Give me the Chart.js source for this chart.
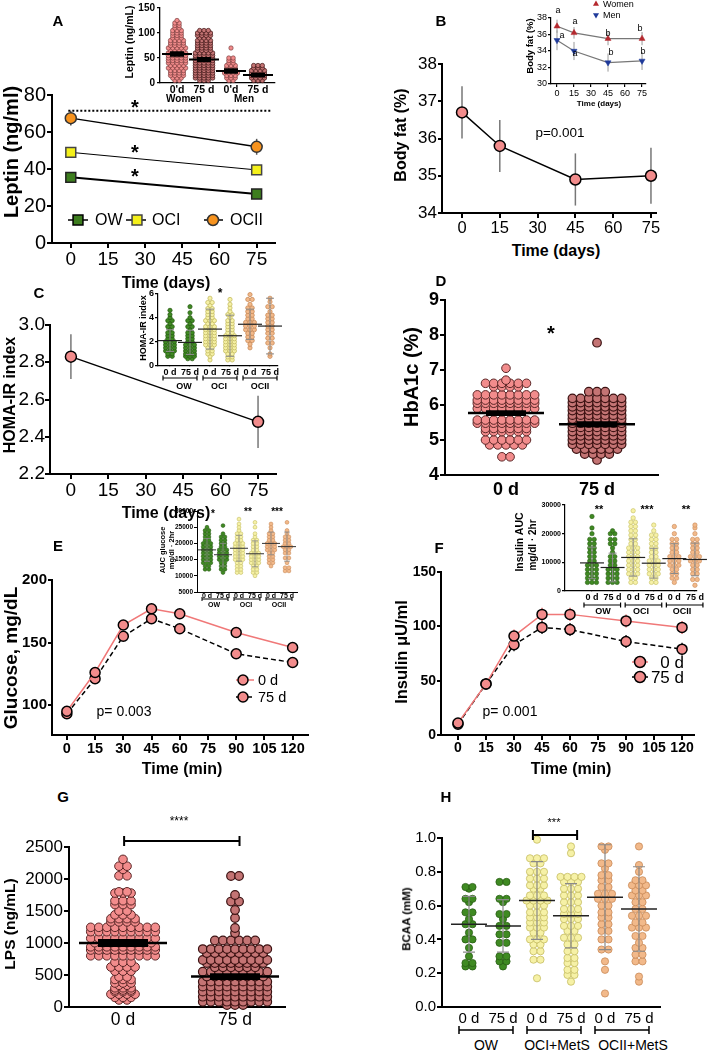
<!DOCTYPE html>
<html><head><meta charset="utf-8">
<script src="https://cdn.jsdelivr.net/npm/chart.js@4.4.1/dist/chart.umd.min.js"></script>
<style>
html,body{margin:0;background:#fff}
#fig{position:relative;width:709px;height:1052px;overflow:hidden}
</style></head><body><div id="fig"></div>
<script>
// ---------- data ----------
const dayTicks = [0, 15, 30, 45, 60, 75];
const minTicks = [0, 15, 30, 45, 60, 75, 90, 105, 120];

// A: leptin by group
const leptinDays = [0, 75];
const leptinOW = [35.5, 26.5];
const leptinOCI = [49, 39.5];
const leptinOCII = [67.5, 52];
const leptinErrOW = [1.5, 1.5];
const leptinErrOCI = [1.5, 1.5];
const leptinErrOCII = [4, 4.3];
const leptinSig = 71.5;
// A inset: [value, count] rows
const leptinCats = ["0'd", '75 d', "0'd", '75 d'];
const leptinW0 = [[5,2],[10,3],[15,4],[20,4],[25,4],[30,5],[35,4],[40,5],[45,5],[50,5],[55,5],[60,5],[65,4],[70,5],[75,4],[80,4],[85,4],[90,3],[95,3],[100,3],[105,3],[110,2],[115,2],[120,2],[125,1]];
const leptinW75 = [[5,3],[10,5],[15,5],[20,5],[25,5],[30,5],[35,5],[40,5],[45,5],[50,5],[55,5],[60,5],[65,4],[70,4],[75,4],[80,4],[85,4],[90,3],[95,4],[100,4],[105,3]];
const leptinM0 = [[5,2],[10,3],[15,3],[20,4],[25,3],[30,3],[35,3],[40,2],[45,2],[50,2],[70,1]];
const leptinM75 = [[5,3],[10,4],[15,4],[20,4],[25,4],[30,3],[35,3]];
const leptinMean = [58, 47, 24, 16];
const leptinSEM = [3, 2.5, 3, 2];

// B: body fat
const fatDays = [0, 15, 45, 75];
const fatMean = [36.7, 35.8, 34.9, 35.0];
const fatErr = [0.7, 0.7, 0.7, 0.75];
const fatWomen = [37.0, 36.2, 35.5, 35.5];
const fatWomenErr = [0.8, 0.7, 0.8, 0.8];
const fatMen = [35.3, 34.0, 32.6, 32.8];
const fatMenErr = [1.2, 1.1, 1.1, 1.1];

// C: HOMA-IR
const homaDays = [0, 75];
const homaMean = [2.83, 2.48];
const homaErr = [0.12, 0.14];
const groupCats = ['0 d', '75 d', '0 d', '75 d', '0 d', '75 d'];
const homaOW0 = [[0.8,2],[1.0,2],[1.25,3],[1.5,3],[1.75,3],[2.0,3],[2.25,2],[2.5,2],[2.75,2],[3.0,1],[3.25,2],[3.5,1],[3.75,2],[4.0,1],[4.25,1],[4.6,1]];
const homaOW75 = [[0.6,2],[0.8,3],[1.0,3],[1.25,3],[1.5,3],[1.75,3],[2.0,2],[2.25,2],[2.5,2],[2.75,2],[3.0,1],[3.25,2],[3.5,1],[3.75,2],[4.0,1],[4.4,1],[4.9,1]];
const homaOCI0 = [[0.5,1],[0.8,1],[1.0,2],[1.25,2],[1.5,2],[1.75,3],[2.0,3],[2.25,3],[2.5,3],[2.75,3],[3.0,3],[3.25,3],[3.5,2],[3.75,3],[4.0,2],[4.25,2],[4.5,2],[4.75,2],[5.0,1],[5.25,2],[5.6,1]];
const homaOCI75 = [[0.5,2],[0.75,2],[1.0,2],[1.25,3],[1.5,3],[1.75,3],[2.0,3],[2.25,3],[2.5,3],[2.75,2],[3.0,2],[3.25,2],[3.5,2],[3.75,2],[4.0,1],[4.25,2],[4.5,1],[4.8,1],[5.1,1],[5.5,1]];
const homaOCII0 = [[1.5,1],[1.8,1],[2.1,2],[2.4,2],[2.7,2],[3.0,3],[3.3,3],[3.6,3],[3.9,2],[4.2,2],[4.5,2],[4.8,2],[5.1,1],[5.5,2],[5.9,1]];
const homaOCII75 = [[0.8,1],[1.0,1],[1.5,1],[1.9,2],[2.3,2],[2.7,2],[3.0,2],[3.3,2],[3.6,2],[3.9,2],[4.2,2],[4.5,1],[4.9,2],[5.3,1],[5.6,1]];
const homaGrpMean = [2.1, 1.95, 3.05, 2.5, 3.45, 3.3];
const homaGrpSD = [0.9, 1.0, 1.65, 1.7, 1.25, 2.3];

// D: HbA1c
const hbCats = ['0 d', '75 d'];
const hba1c0 = [[4.52,2],[4.86,5],[5.0,6],[5.24,6],[5.33,6],[5.48,8],[5.57,8],[5.81,4],[5.9,8],[6.05,8],[6.14,8],[6.29,8],[6.52,4],[6.62,6],[6.71,1],[7.05,1]];
const hba1c75 = [[4.43,1],[4.6,4],[4.74,6],[4.88,7],[5.0,7],[5.12,7],[5.24,7],[5.36,7],[5.48,7],[5.6,7],[5.71,7],[5.84,7],[5.95,7],[6.07,7],[6.19,7],[6.38,3],[7.78,1]];
const hbMean = [5.77, 5.45];
const hbSEM = [0.04, 0.04];

// E: glucose OGTT
const ogttMin = [0, 15, 30, 45, 60, 90, 120];
const gluc0 = [95, 126, 164, 177, 173, 158, 146];
const gluc75 = [93, 121, 155, 169, 161, 141, 134];
const aucGOW0 = [[12000,2],[13000,2],[14000,3],[15000,3],[16000,3],[17000,3],[18000,3],[19000,3],[20000,3],[21000,2],[22000,2],[23000,2],[24000,2],[25000,1]];
const aucGOW75 = [[11000,1],[12000,2],[13000,2],[14000,2],[15000,3],[16000,3],[17000,3],[18000,3],[19000,2],[20000,2],[21000,2],[22000,2],[23000,1],[25500,1]];
const aucGOCI0 = [[11000,2],[12000,2],[13000,2],[14000,2],[15000,3],[16000,3],[17000,3],[18000,3],[19000,3],[20000,3],[21000,2],[22000,2],[23000,2],[24000,1],[25000,1],[26000,1],[27500,1]];
const aucGOCI75 = [[10000,1],[11000,2],[12000,2],[13000,2],[14000,3],[15000,3],[16000,3],[17000,3],[18000,2],[19000,2],[20000,2],[21000,2],[22000,1],[23000,1],[25000,1],[26500,1]];
const aucGOCII0 = [[13000,1],[14000,2],[15000,2],[16000,2],[17000,2],[18000,3],[19000,3],[20000,3],[21000,2],[22000,2],[23000,2],[24000,1],[25000,1],[26000,1]];
const aucGOCII75 = [[11500,2],[12500,2],[14000,1],[15500,2],[17000,2],[18000,2],[19000,3],[20000,2],[21000,2],[22000,2],[23000,1],[24000,1],[26500,1]];
const aucGMean = [18000, 16500, 18500, 16800, 20000, 19000];
const aucGSD = [3500, 3500, 4000, 4000, 3500, 4500];

// F: insulin OGTT
const ins0 = [11, 47, 91, 111, 111, 105, 99];
const ins75 = [10, 47, 83, 99, 97, 86, 79];
const insErr = [3, 5, 6, 6, 6, 6, 6];
const aucIOW0 = [[3000,3],[4500,3],[6000,3],[7500,3],[9000,3],[10500,2],[12000,2],[13500,2],[15000,2],[16500,2],[18000,2],[20000,1],[22000,1],[26000,1]];
const aucIOW75 = [[3000,3],[4500,3],[6000,3],[7500,3],[9000,2],[10500,2],[12000,2],[13500,1],[15000,1],[16500,2],[18000,2],[20000,2],[21000,1]];
const aucIOCI0 = [[3000,2],[4500,2],[6000,3],[7500,3],[9000,3],[10500,3],[12000,3],[13500,3],[15000,3],[16500,2],[18000,2],[19500,2],[21000,2],[22500,2],[24000,2],[25500,1],[28000,1]];
const aucIOCI75 = [[3000,2],[4500,2],[6000,3],[7500,3],[9000,3],[10500,3],[12000,2],[13500,2],[15000,2],[16500,2],[18000,2],[19500,2],[21000,1],[23000,1]];
const aucIOCII0 = [[3000,1],[4500,2],[6000,2],[7500,2],[9000,3],[10500,3],[12000,3],[13500,2],[15000,2],[16500,2],[18000,2],[20000,1],[22500,1]];
const aucIOCII75 = [[2000,1],[4000,2],[6000,2],[7500,2],[9000,2],[10500,3],[12000,3],[13500,2],[15000,2],[16500,2],[18000,2],[20000,1],[22000,1],[23000,1]];
const aucIMean = [9800, 8200, 11700, 9700, 11300, 11000];
const aucISD = [5500, 5000, 6500, 5200, 5200, 5700];

// G: LPS
const lpsCats = ['0 d', '75 d'];
const lps0 = [[110,2],[150,3],[200,4],[240,3],[265,3],[300,3],[340,2],[375,3],[430,3],[470,2],[560,3],[625,4],[700,3],[800,9],[890,9],[940,9],[1005,8],[1073,9],[1177,9],[1245,9],[1330,4],[1380,4],[1440,3],[1500,2],[1600,3],[1660,3],[1780,3],[1800,2],[2050,2],[2150,1],[2200,2],[2307,1]];
const lps75 = [[31,3],[83,9],[161,9],[240,9],[318,9],[396,9],[475,8],[552,9],[620,6],[687,8],[734,9],[843,8],[905,9],[1040,6],[1156,1],[1234,1],[1390,1],[1516,1],[1648,2],[1750,1],[2047,2]];
const lpsMean = [1000, 475];
const lpsSEM = [40, 30];

// H: BCAA
const bcaaOW0 = [[0.24,2],[0.26,2],[0.30,1],[0.35,1],[0.40,2],[0.44,1],[0.49,2],[0.52,1],[0.56,2],[0.62,1],[0.64,2],[0.70,1],[0.71,2]];
const bcaaOW75 = [[0.24,1],[0.27,2],[0.30,2],[0.38,2],[0.43,2],[0.48,2],[0.52,1],[0.55,2],[0.62,1],[0.64,2],[0.74,2]];
const bcaaOCI0 = [[0.17,1],[0.28,2],[0.33,2],[0.37,2],[0.40,3],[0.44,2],[0.47,3],[0.50,3],[0.53,3],[0.56,3],[0.60,3],[0.63,4],[0.66,3],[0.70,2],[0.72,3],[0.76,3],[0.80,3],[0.85,2],[0.88,3],[0.99,1]];
const bcaaOCI75 = [[0.15,1],[0.19,2],[0.22,2],[0.26,2],[0.29,2],[0.33,2],[0.37,2],[0.41,3],[0.45,2],[0.48,3],[0.52,3],[0.55,3],[0.58,3],[0.62,3],[0.66,3],[0.70,3],[0.74,3],[0.77,4],[0.91,1],[0.95,1]];
const bcaaOCII0 = [[0.08,1],[0.22,1],[0.27,1],[0.34,2],[0.40,2],[0.45,2],[0.49,2],[0.53,2],[0.56,2],[0.60,2],[0.64,3],[0.67,3],[0.71,2],[0.75,2],[0.78,2],[0.82,1],[0.85,2],[0.93,1],[0.95,2]];
const bcaaOCII75 = [[0.15,1],[0.18,1],[0.27,2],[0.31,2],[0.35,2],[0.38,1],[0.42,2],[0.47,3],[0.50,2],[0.54,3],[0.58,2],[0.62,2],[0.66,3],[0.69,2],[0.72,3],[0.75,2],[0.80,1],[0.84,1],[0.95,1]];
const bcaaCats = ['0 d', '75 d', '0 d', '75 d', '0 d', '75 d'];
const bcaaMean = [0.49, 0.48, 0.63, 0.54, 0.65, 0.58];
const bcaaSD = [0.165, 0.155, 0.23, 0.19, 0.31, 0.25];

// ---------- helpers ----------
const FONT = '"Liberation Sans", Arial, Helvetica, sans-serif';
Chart.defaults.font.family = FONT;
Chart.defaults.color = '#000';
const fig = document.getElementById('fig');

const PINK = '#f28c8c', PINK_LINE = '#f07878';
const DARK = '#c47474', DARK_EDGE = '#3c1212';
const GREEN = '#3f8a22', GREEN_EDGE = '#2a5e15';
const YEL = '#f6f1a6', YEL_EDGE = '#c5bd62';
const PEACH = '#f2b98a', PEACH_EDGE = '#c98a58';
const GREY = '#8a8a8a';

function xy(xs, ys) { return xs.map((v, i) => ({x: v, y: ys[i]})); }
function errs(xs, ys, es) { return xs.map((v, i) => [v, ys[i], es[i]]); }
function swarm(rows, cx, step) {
  const pts = [];
  rows.forEach(([v, n]) => {
    for (let i = 0; i < n; i++) pts.push({x: cx + (i - (n - 1) / 2) * step, y: v});
  });
  return pts;
}
function fmt(d) { return v => v.toFixed(d); }

function axis(a, fit) {
  const labels = a.labels || a.ticks.map(a.fmt || String);
  return {
    type: 'linear', min: a.min, max: a.max,
    afterBuildTicks: s => { s.ticks = a.ticks.map(v => ({value: v})); },
    afterFit: s => { if (fit.w != null) s.width = fit.w; if (fit.h != null) s.height = fit.h; },
    grid: {drawOnChartArea: false, color: '#000', lineWidth: a.lw || 2, tickLength: a.tl ?? 5},
    border: {color: '#000', width: a.lw || 2},
    ticks: {autoSkip: false, maxRotation: 0, minRotation: 0, padding: a.pad ?? 2, color: '#000',
      font: {size: a.size, weight: a.bold ? 'bold' : 'normal'},
      callback: (v, i) => labels[i]}
  };
}

function shape(ctx, s, x, y, r, fill, stroke, lw) {
  ctx.beginPath();
  if (s === 'rect') {
    const a = r * Math.SQRT1_2;
    ctx.rect(x - a, y - a, 2 * a, 2 * a);
  } else if (s === 'tri' || s === 'triDown') {
    const k = s === 'tri' ? 1 : -1;
    ctx.moveTo(x, y - k * r);
    ctx.lineTo(x - r * 0.866, y + k * r / 2);
    ctx.lineTo(x + r * 0.866, y + k * r / 2);
    ctx.closePath();
  } else {
    ctx.arc(x, y, r, 0, Math.PI * 2);
  }
  ctx.fillStyle = fill; ctx.fill();
  if (lw) { ctx.strokeStyle = stroke; ctx.lineWidth = lw; ctx.stroke(); }
}

function extrasPlugin(o) {
  return {
    id: 'extras',
    beforeDatasetsDraw(chart) {
      const ctx = chart.ctx, x = chart.scales.x, y = chart.scales.y;
      ctx.save();
      (o.errs || []).forEach(e => {
        ctx.strokeStyle = e.color; ctx.lineWidth = e.lw;
        e.pts.forEach(([xv, yv, ev]) => {
          const px = x.getPixelForValue(xv);
          ctx.beginPath();
          ctx.moveTo(px, y.getPixelForValue(yv - ev));
          ctx.lineTo(px, y.getPixelForValue(yv + ev));
          ctx.stroke();
        });
      });
      ctx.restore();
    },
    afterDatasetsDraw(chart) {
      const ctx = chart.ctx, ca = chart.chartArea, x = chart.scales.x, y = chart.scales.y;
      const [ox, oy] = o.origin;
      ctx.save();
      (o.bars || []).forEach(b => {
        b.m.forEach((m, i) => {
          const px = x.getPixelForValue(i), py = y.getPixelForValue(m);
          const lo = y.getPixelForValue(m - b.e[i]), hi = y.getPixelForValue(m + b.e[i]);
          ctx.strokeStyle = b.ecolor; ctx.lineWidth = b.elw;
          ctx.beginPath();
          ctx.moveTo(px, lo); ctx.lineTo(px, hi);
          ctx.moveTo(px - b.cap, lo); ctx.lineTo(px + b.cap, lo);
          ctx.moveTo(px - b.cap, hi); ctx.lineTo(px + b.cap, hi);
          ctx.stroke();
          ctx.strokeStyle = b.color; ctx.lineWidth = b.lw;
          ctx.beginPath(); ctx.moveTo(px - b.half, py); ctx.lineTo(px + b.half, py); ctx.stroke();
        });
      });
      (o.groups || []).forEach(g => {
        const yy = ca.bottom + g.dy;
        ctx.strokeStyle = '#000'; ctx.lineWidth = g.lw;
        g.pairs.forEach(([a, b]) => {
          const xa = x.getPixelForValue(a) - g.ext, xb = x.getPixelForValue(b) + g.ext;
          ctx.beginPath();
          ctx.moveTo(xa, yy); ctx.lineTo(xb, yy);
          ctx.moveTo(xa, yy - g.tick); ctx.lineTo(xa, yy + g.tick);
          ctx.moveTo(xb, yy - g.tick); ctx.lineTo(xb, yy + g.tick);
          ctx.stroke();
        });
      });
      (o.brackets || []).forEach(b => {
        const xa = x.getPixelForValue(b.x1), xb = x.getPixelForValue(b.x2), yy = y.getPixelForValue(b.y);
        ctx.strokeStyle = '#000'; ctx.lineWidth = b.lw;
        ctx.setLineDash(b.dash || []);
        ctx.beginPath();
        ctx.moveTo(xa, yy); ctx.lineTo(xb, yy);
        if (b.tick) {
          ctx.moveTo(xa, yy - b.tick); ctx.lineTo(xa, yy + b.tick);
          ctx.moveTo(xb, yy - b.tick); ctx.lineTo(xb, yy + b.tick);
        }
        ctx.stroke();
        ctx.setLineDash([]);
      });
      (o.legend || []).forEach(l => {
        const py = l.y - oy;
        if (l.x1 != null) {
          ctx.strokeStyle = l.lc || '#000'; ctx.lineWidth = l.lw || 1.5;
          ctx.setLineDash(l.dash || []);
          ctx.beginPath(); ctx.moveTo(l.x1 - ox, py); ctx.lineTo(l.x2 - ox, py); ctx.stroke();
          ctx.setLineDash([]);
        }
        shape(ctx, l.shape, l.x - ox, py, l.r, l.fill, l.stroke || '#000', l.slw ?? 1.5);
      });
      ctx.restore();
    }
  };
}

function makeChart(L, datasets, xa, ya, ex) {
  const w = L.x1 - L.x0 + L.yW + L.pr, h = L.y1 - L.y0 + L.pt + L.xH;
  const left = L.x0 - L.yW, top = L.y0 - L.pt;
  const c = document.createElement('canvas');
  c.width = w; c.height = h;
  c.style.cssText = 'position:absolute;left:' + left + 'px;top:' + top + 'px;width:' + w + 'px;height:' + h + 'px';
  fig.appendChild(c);
  ex = Object.assign({origin: [left, top]}, ex || {});
  return new Chart(c, {
    type: 'scatter',
    data: {datasets},
    options: {
      responsive: false, animation: false, events: [],
      layout: {padding: {top: L.pt, right: L.pr, left: 0, bottom: 0}},
      plugins: {legend: {display: false}, tooltip: {enabled: false}},
      scales: {x: axis(xa, {h: L.xH}), y: axis(ya, {w: L.yW})}
    },
    plugins: [extrasPlugin(ex)]
  });
}

function lineSet(data, o) {
  return Object.assign({data, showLine: true, clip: false, borderColor: '#000', borderWidth: 1.5,
    pointRadius: 5, pointBackgroundColor: PINK, pointBorderColor: '#000', pointBorderWidth: 1.5}, o);
}
function dotSet(data, fill, stroke, r, bw) {
  return {data, showLine: false, clip: false, pointRadius: r, pointBackgroundColor: fill,
    pointBorderColor: stroke, pointBorderWidth: bw ?? 0.8};
}
function crossSet(data) {
  return {data, showLine: false, clip: false, pointStyle: 'crossRot', pointRadius: 2.4,
    pointBorderColor: '#4a1515', pointBorderWidth: 1};
}

function txt(t, x, y, size, o) {
  o = o || {};
  const d = document.createElement('div');
  d.textContent = t;
  const ax = o.ax ?? -50;
  const dy = o.star ? size * 0.22 : 0;
  d.style.cssText = 'position:absolute;left:' + x + 'px;top:' + (y + dy) + 'px;font:' + (o.b ? 'bold ' : '') +
    size + 'px ' + FONT + ';line-height:1;white-space:nowrap;color:#000;z-index:5;transform:translate(' + ax + '%,-50%)' +
    (o.rot ? ' rotate(-90deg)' : '');
  fig.appendChild(d);
}
const B = {b: true}, BR = {b: true, rot: true}, ST = {b: true, star: true};

// ---------- A ----------
makeChart({x0: 52, x1: 277, y0: 94, y1: 243, yW: 50, xH: 32, pt: 12, pr: 6},
  [lineSet(xy(leptinDays, leptinOCII), {pointRadius: 5.5, pointBackgroundColor: '#f7931e', pointBorderColor: '#333'}),
   lineSet(xy(leptinDays, leptinOCI), {borderWidth: 1, pointStyle: 'rect', pointRadius: 7, pointBackgroundColor: '#f4f01a', pointBorderColor: '#444'}),
   lineSet(xy(leptinDays, leptinOW), {borderWidth: 2, pointStyle: 'rect', pointRadius: 7, pointBackgroundColor: '#3d7d1e', pointBorderColor: '#222'})],
  {min: -7.58, max: 82.2, ticks: dayTicks, size: 19, tl: 5, pad: 0},
  {min: 0, max: 80, ticks: [0, 20, 40, 60, 80], size: 20, tl: 5, pad: 1},
  {errs: [{color: '#555', lw: 1.5, pts: errs(leptinDays, leptinOCII, leptinErrOCII)},
          {color: '#555', lw: 1.5, pts: errs(leptinDays, leptinOCI, leptinErrOCI)},
          {color: '#555', lw: 1.5, pts: errs(leptinDays, leptinOW, leptinErrOW)}],
   brackets: [{x1: -1, x2: 80.5, y: leptinSig, lw: 2, dash: [2, 2]}],
   legend: [{x: 78, y: 220, x1: 68, x2: 88, shape: 'rect', r: 7, fill: '#3d7d1e'},
            {x: 137, y: 220, x1: 126, x2: 146, shape: 'rect', r: 7, fill: '#f4f01a', stroke: '#444'},
            {x: 213, y: 220, x1: 204, x2: 223, shape: 'circle', r: 5.5, fill: '#f7931e', stroke: '#333'}]});

makeChart({x0: 160, x1: 275, y0: 5, y1: 83, yW: 30, xH: 12, pt: 5, pr: 5},
  [dotSet(swarm(leptinW0, 0, 0.16), PINK, '#6a3030', 2.2, 0.6),
   dotSet(swarm(leptinW75, 1, 0.16), DARK, DARK_EDGE, 2.2, 0.7),
   dotSet(swarm(leptinM0, 2, 0.16), PINK, '#6a3030', 2.2, 0.6),
   dotSet(swarm(leptinM75, 3, 0.16), DARK, DARK_EDGE, 2.2, 0.7)],
  {min: -0.63, max: 3.63, ticks: [0, 1, 2, 3], labels: leptinCats, size: 10.5, bold: true, tl: 0, lw: 1.3, pad: 1},
  {min: 0, max: 150, ticks: [0, 50, 100, 150], size: 10, bold: true, tl: 3, lw: 1.3},
  {bars: [{m: leptinMean, e: leptinSEM, half: 15, cap: 7, color: '#000', lw: 2, ecolor: '#000', elw: 2.5}]});

txt('A', 58, 20, 15, B);
txt('Leptin (ng/ml)', 11, 152, 20, BR);
txt('Time (days)', 166, 283, 16, B);
txt('*', 135, 103, 20, ST);
txt('*', 135, 148, 20, ST);
txt('*', 135, 172, 20, ST);
txt('OW', 95, 220, 16, {ax: 0});
txt('OCI', 152, 220, 16, {ax: 0});
txt('OCII', 230, 220, 16, {ax: 0});
txt('Leptin (ng/mL)', 129, 42, 10.5, BR);
txt('Women', 184, 99, 10, B);
txt('Men', 244, 99, 10, B);

// ---------- B ----------
makeChart({x0: 442, x1: 656, y0: 64, y1: 213, yW: 42, xH: 28, pt: 12, pr: 8},
  [lineSet(xy(fatDays, fatMean), {pointRadius: 5.5})],
  {min: -7.94, max: 77.0, ticks: dayTicks, size: 16.5, tl: 5, pad: 1},
  {min: 34, max: 38, ticks: [34, 35, 36, 37, 38], size: 17, tl: 4, pad: 1},
  {errs: [{color: '#777', lw: 1.5, pts: errs(fatDays, fatMean, fatErr)}]});

makeChart({x0: 551, x1: 646, y0: 18, y1: 84, yW: 22, xH: 12, pt: 18, pr: 8},
  [lineSet(xy(fatDays, fatWomen), {borderColor: '#777', borderWidth: 1.2, pointStyle: 'triangle', pointRadius: 3.5, pointBackgroundColor: '#b5282e', pointBorderColor: '#b5282e', pointBorderWidth: 0.5}),
   lineSet(xy(fatDays, fatMen), {borderColor: '#777', borderWidth: 1.2, pointStyle: 'triangle', pointRotation: 180, pointRadius: 3.5, pointBackgroundColor: '#1f3a9a', pointBorderColor: '#1f3a9a', pointBorderWidth: 0.5})],
  {min: -5.3, max: 78.5, ticks: dayTicks, size: 9, tl: 3, lw: 1.2, pad: 1},
  {min: 30, max: 38, ticks: [30, 32, 34, 36, 38], size: 9, tl: 3, lw: 1.2, pad: 1},
  {errs: [{color: '#999', lw: 1, pts: errs(fatDays, fatWomen, fatWomenErr)},
          {color: '#999', lw: 1, pts: errs(fatDays, fatMen, fatMenErr)}],
   legend: [{x: 596, y: 4, shape: 'tri', r: 3.5, fill: '#b5282e', slw: 0},
            {x: 596, y: 15, shape: 'triDown', r: 3.5, fill: '#1f3a9a', slw: 0}]});

txt('B', 441, 20, 15, B);
txt('Body fat (%)', 401, 135, 16, BR);
txt('Time (days)', 556, 251, 16, B);
txt('p=0.001', 560, 133, 13.5);
txt('Body fat (%)', 530, 46, 9.5, BR);
txt('Time (days)', 599, 104, 8, B);
txt('Women', 603, 4, 9, {ax: 0});
txt('Men', 603, 15, 9, {ax: 0});
[['a', 558, 10], ['a', 575, 21], ['b', 608, 33], ['b', 640, 28],
 ['a', 562, 35], ['a', 575, 53], ['b', 611, 52], ['b', 643, 51]].forEach(([t, x, y]) => txt(t, x, y, 9));

// ---------- C ----------
makeChart({x0: 50, x1: 277, y0: 325, y1: 474, yW: 50, xH: 28, pt: 12, pr: 6},
  [lineSet(xy(homaDays, homaMean), {pointRadius: 5.5})],
  {min: -8.38, max: 82.2, ticks: dayTicks, size: 19, tl: 5, pad: 0},
  {min: 2.2, max: 3.0, ticks: [2.2, 2.4, 2.6, 2.8, 3.0], fmt: fmt(1), size: 19, tl: 5, pad: 0},
  {errs: [{color: '#777', lw: 1.5, pts: errs(homaDays, homaMean, homaErr)}]});

makeChart({x0: 158, x1: 278, y0: 293, y1: 366, yW: 18, xH: 18, pt: 6, pr: 6},
  [dotSet(swarm(homaOW0, 0, 0.22), GREEN, GREEN_EDGE, 2.1),
   dotSet(swarm(homaOW75, 1, 0.22), GREEN, GREEN_EDGE, 2.1),
   dotSet(swarm(homaOCI0, 2, 0.22), YEL, YEL_EDGE, 2.1),
   dotSet(swarm(homaOCI75, 3, 0.22), YEL, YEL_EDGE, 2.1),
   dotSet(swarm(homaOCII0, 4, 0.22), PEACH, PEACH_EDGE, 2.1),
   dotSet(swarm(homaOCII75, 5, 0.22), PEACH, PEACH_EDGE, 2.1)],
  {min: -0.6, max: 5.4, ticks: [0, 1, 2, 3, 4, 5], labels: groupCats, size: 9, bold: true, tl: 0, lw: 1.2, pad: 1},
  {min: 0, max: 6, ticks: [0, 2, 4, 6], size: 9, bold: true, tl: 3, lw: 1.2, pad: 1},
  {bars: [{m: homaGrpMean, e: homaGrpSD, half: 12, cap: 4, color: '#222', lw: 1.2, ecolor: GREY, elw: 1}],
   groups: [{pairs: [[0, 1], [2, 3], [4, 5]], dy: 12, ext: 7, tick: 2.5, lw: 1.2}]});

txt('C', 39, 292, 15, B);
txt('HOMA-IR index', 10, 395, 16, BR);
txt('Time (days)', 166, 513, 16, B);
txt('HOMA-IR index', 143, 328, 9, BR);
txt('*', 220, 290, 12, ST);
txt('OW', 184, 386, 9, B);
txt('OCI', 219, 386, 9, B);
txt('OCII', 260, 386, 9, B);

// ---------- D ----------
const hbPts75 = swarm(hba1c75, 1, 0.09);
makeChart({x0: 445, x1: 658, y0: 300, y1: 475, yW: 32, xH: 30, pt: 12, pr: 6},
  [dotSet(swarm(hba1c0, 0, 0.09), PINK, '#5a2626', 4.3, 1),
   dotSet(hbPts75, DARK, DARK_EDGE, 4.3, 1.2),
   crossSet(hbPts75)],
  {min: -0.67, max: 1.67, ticks: [0, 1], labels: hbCats, size: 18, bold: true, tl: 0, pad: 4},
  {min: 4, max: 9, ticks: [4, 5, 6, 7, 8, 9], size: 18, bold: true, tl: 5, pad: 1},
  {bars: [{m: hbMean, e: hbSEM, half: 38, cap: 20, color: '#000', lw: 2.5, ecolor: '#000', elw: 3}]});

txt('D', 441, 280, 15, B);
txt('HbA1c (%)', 411, 377, 20, BR);
txt('*', 551, 329, 20, ST);

// ---------- E ----------
makeChart({x0: 52, x1: 310, y0: 580, y1: 735, yW: 50, xH: 28, pt: 12, pr: 4},
  [lineSet(xy(ogttMin, gluc0), {borderColor: PINK_LINE, pointRadius: 5}),
   lineSet(xy(ogttMin, gluc75), {borderDash: [5, 3], pointRadius: 5})],
  {min: -7.9, max: 127.9, ticks: minTicks, size: 14.5, bold: true, tl: 5, pad: 0},
  {min: 76, max: 200, ticks: [100, 150, 200], size: 15, bold: true, tl: 4, pad: 1},
  {legend: [{x: 243, y: 680, x1: 236, x2: 254, lc: PINK_LINE, shape: 'circle', r: 5, fill: PINK},
            {x: 243, y: 697, x1: 236, x2: 254, dash: [4, 2], shape: 'circle', r: 5, fill: PINK}]});

makeChart({x0: 197, x1: 297, y0: 511, y1: 592, yW: 32, xH: 12, pt: 6, pr: 6},
  [dotSet(swarm(aucGOW0, 0, 0.24), GREEN, GREEN_EDGE, 1.9, 0.6),
   dotSet(swarm(aucGOW75, 1, 0.24), GREEN, GREEN_EDGE, 1.9, 0.6),
   dotSet(swarm(aucGOCI0, 2, 0.24), YEL, YEL_EDGE, 1.9, 0.6),
   dotSet(swarm(aucGOCI75, 3, 0.24), YEL, YEL_EDGE, 1.9, 0.6),
   dotSet(swarm(aucGOCII0, 4, 0.24), PEACH, PEACH_EDGE, 1.9, 0.6),
   dotSet(swarm(aucGOCII75, 5, 0.24), PEACH, PEACH_EDGE, 1.9, 0.6)],
  {min: -0.625, max: 5.625, ticks: [0, 1, 2, 3, 4, 5], labels: groupCats, size: 7, bold: true, tl: 0, lw: 1, pad: 0},
  {min: 5000, max: 30000, ticks: [5000, 10000, 15000, 20000, 25000, 30000], size: 6.5, bold: true, tl: 3, lw: 1, pad: 1},
  {bars: [{m: aucGMean, e: aucGSD, half: 9, cap: 3, color: '#333', lw: 1, ecolor: GREY, elw: 0.8}],
   groups: [{pairs: [[0, 1], [2, 3], [4, 5]], dy: 7, ext: 5, tick: 2, lw: 1}]});

txt('E', 58, 545, 15, B);
txt('Glucose, mg/dL', 10, 658, 19, BR);
txt('Time (min)', 182, 769, 16, B);
txt('p= 0.003', 124, 711, 14);
txt('0 d', 258, 680, 14.5, {ax: 0});
txt('75 d', 258, 697, 14.5, {ax: 0});
txt('AUC glucose', 163, 550, 7.5, BR);
txt('mg/dl · 2hr', 172, 550, 7.5, BR);
txt('*', 213, 512, 10, ST);
txt('**', 248, 510, 10, ST);
txt('***', 277, 510, 10, ST);
txt('OW', 214, 604, 7, B);
txt('OCI', 246, 604, 7, B);
txt('OCII', 279, 604, 7, B);

// ---------- F ----------
makeChart({x0: 441, x1: 694, y0: 572, y1: 735, yW: 45, xH: 28, pt: 12, pr: 8},
  [lineSet(xy(ogttMin, ins0), {borderColor: PINK_LINE, pointRadius: 5}),
   lineSet(xy(ogttMin, ins75), {borderDash: [5, 3], pointRadius: 5})],
  {min: -9.1, max: 126.4, ticks: minTicks, size: 14, bold: true, tl: 5, pad: 0},
  {min: 0, max: 150, ticks: [0, 50, 100, 150], size: 14, bold: true, tl: 4, pad: 1},
  {errs: [{color: PINK_LINE, lw: 1.5, pts: errs(ogttMin, ins0, insErr)},
          {color: '#333', lw: 1.5, pts: errs(ogttMin, ins75, insErr)}],
   legend: [{x: 640, y: 662, x1: 632, x2: 648, lc: PINK_LINE, shape: 'circle', r: 5.5, fill: PINK},
            {x: 640, y: 677, x1: 632, x2: 648, dash: [4, 2], shape: 'circle', r: 5.5, fill: PINK}]});

makeChart({x0: 565, x1: 697, y0: 505, y1: 591, yW: 34, xH: 18, pt: 6, pr: 10},
  [dotSet(swarm(aucIOW0, 0, 0.218), GREEN, GREEN_EDGE, 2.2, 0.6),
   dotSet(swarm(aucIOW75, 1, 0.218), GREEN, GREEN_EDGE, 2.2, 0.6),
   dotSet(swarm(aucIOCI0, 2, 0.218), YEL, YEL_EDGE, 2.2, 0.6),
   dotSet(swarm(aucIOCI75, 3, 0.218), YEL, YEL_EDGE, 2.2, 0.6),
   dotSet(swarm(aucIOCII0, 4, 0.218), PEACH, PEACH_EDGE, 2.2, 0.6),
   dotSet(swarm(aucIOCII75, 5, 0.218), PEACH, PEACH_EDGE, 2.2, 0.6)],
  {min: -1.31, max: 5.1, ticks: [0, 1, 2, 3, 4, 5], labels: groupCats, size: 9, bold: true, tl: 0, lw: 1.2, pad: 1},
  {min: 0, max: 30000, ticks: [0, 10000, 20000, 30000], size: 7, bold: true, tl: 3, lw: 1.2, pad: 1},
  {bars: [{m: aucIMean, e: aucISD, half: 12, cap: 4, color: '#222', lw: 1.2, ecolor: GREY, elw: 1}],
   groups: [{pairs: [[0, 1], [2, 3], [4, 5]], dy: 14, ext: 8, tick: 2.5, lw: 1.2}]});

txt('F', 439, 547, 15, B);
txt('Insulin \u03bcU/ml', 401, 652, 16.5, BR);
txt('Time (min)', 571, 769, 16, B);
txt('p= 0.001', 510, 711, 14);
txt('0 d', 684, 662, 17, {ax: -100});
txt('75 d', 684, 677, 17, {ax: -100});
txt('Insulin AUC', 519, 542, 10.5, BR);
txt('mg/dl · 2hr', 533, 545, 10, BR);
txt('**', 599, 507, 11, ST);
txt('***', 647, 507, 11, ST);
txt('**', 686, 507, 11, ST);
txt('OW', 603, 611, 9, B);
txt('OCI', 641, 611, 9, B);
txt('OCII', 682, 611, 9, B);

// ---------- G ----------
const lpsPts75 = swarm(lps75, 1, 0.072);
makeChart({x0: 69, x1: 285, y0: 847, y1: 1007, yW: 68, xH: 30, pt: 14, pr: 6},
  [dotSet(swarm(lps0, 0, 0.072), PINK, '#5a2626', 4.3, 1),
   dotSet(lpsPts75, DARK, DARK_EDGE, 4.3, 1.2),
   crossSet(lpsPts75)],
  {min: -0.482, max: 1.446, ticks: [0, 1], labels: lpsCats, size: 17.5, tl: 0, pad: 3},
  {min: 0, max: 2500, ticks: [0, 500, 1000, 1500, 2000, 2500], size: 17, tl: 5, pad: 1},
  {bars: [{m: lpsMean, e: lpsSEM, half: 44, cap: 25, color: '#000', lw: 2.5, ecolor: '#000', elw: 3}],
   brackets: [{x1: 0.01, x2: 1.04, y: 2594, lw: 2, tick: 5}]});

txt('G', 63, 796, 15, B);
txt('LPS (ng/mL)', 10, 924, 15.5, BR);
txt('****', 179, 818, 12, {star: true});

// ---------- H ----------
makeChart({x0: 442, x1: 660, y0: 838, y1: 1007, yW: 40, xH: 30, pt: 10, pr: 6},
  [dotSet(swarm(bcaaOW0, 0, 0.206), GREEN, GREEN_EDGE, 3.6),
   dotSet(swarm(bcaaOW75, 1, 0.206), GREEN, GREEN_EDGE, 3.6),
   dotSet(swarm(bcaaOCI0, 2, 0.206), YEL, YEL_EDGE, 3.6),
   dotSet(swarm(bcaaOCI75, 3, 0.206), YEL, YEL_EDGE, 3.6),
   dotSet(swarm(bcaaOCII0, 4, 0.206), PEACH, PEACH_EDGE, 3.6),
   dotSet(swarm(bcaaOCII75, 5, 0.206), PEACH, PEACH_EDGE, 3.6)],
  {min: -0.794, max: 5.618, ticks: [0, 1, 2, 3, 4, 5], labels: bcaaCats, size: 15, tl: 0, pad: 3},
  {min: 0, max: 1.0, ticks: [0, 0.2, 0.4, 0.6, 0.8, 1.0], fmt: fmt(1), size: 15, tl: 5, pad: 1},
  {bars: [{m: bcaaMean, e: bcaaSD, half: 18, cap: 6, color: '#222', lw: 1.5, ecolor: GREY, elw: 1.2}],
   groups: [{pairs: [[0, 1], [2, 3], [4, 5]], dy: 23, ext: 10, tick: 4, lw: 1.5}],
   brackets: [{x1: 1.88, x2: 3.18, y: 1.018, lw: 2, tick: 5}]});

txt('H', 446, 796, 15, B);
txt('BCAA (mM)', 407, 919, 11.5, BR);
txt('***', 554, 820, 11, {star: true});
txt('OW', 486, 1045, 14);
txt('OCI+MetS', 557, 1045, 14);
txt('OCII+MetS', 633, 1045, 14);
</script></body></html>
